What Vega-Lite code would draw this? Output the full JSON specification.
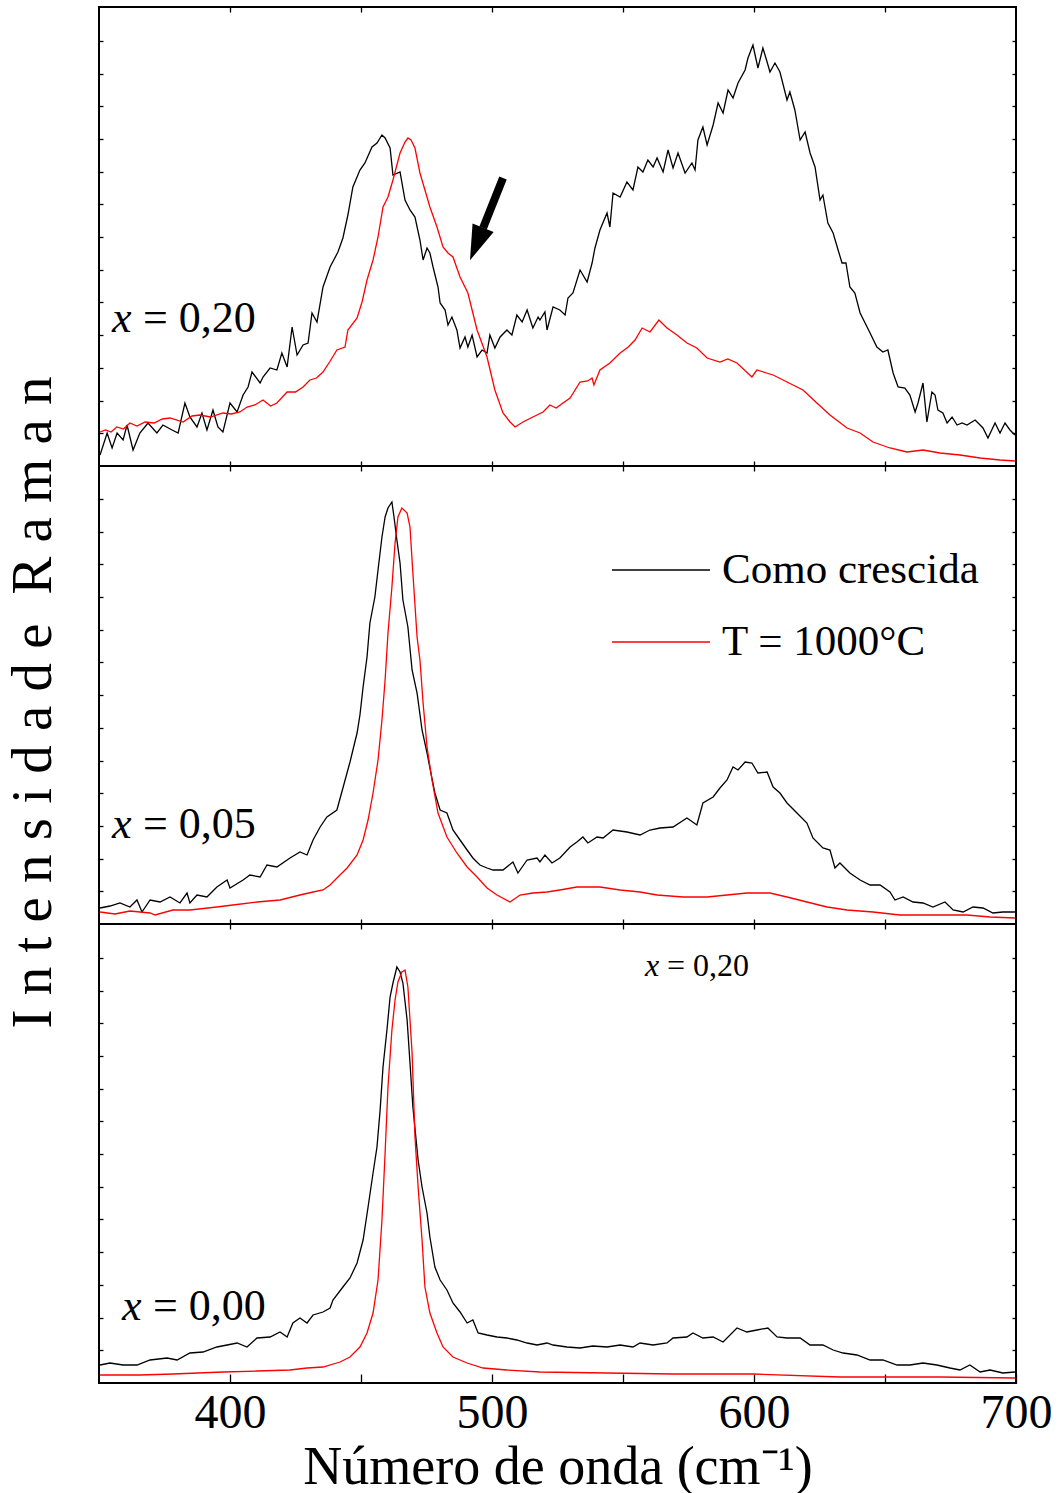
{
"$schema":"https://vega.github.io/schema/vega-lite/v6.json",
"background":"white",
"padding":{"left":3,"top":5,"right":0,"bottom":0},
"bounds":"flush",
"spacing":0,
"config":{"view":{"stroke":"black","strokeWidth":2},"font":"Liberation Serif",
 "axis":{"grid":false,"domain":false,"tickColor":"black","tickWidth":1.3,"labelColor":"black","titleColor":"black","labelFont":"Liberation Serif","titleFont":"Liberation Serif","titleFontWeight":"normal"}},
"resolve":{"scale":{"color":"independent","y":"independent"},"legend":{"color":"independent"}},
"datasets":{
"curves":[
{"p":"a","s":"k","x":350.4,"y":11},{"p":"a","s":"k","x":353.1,"y":33},{"p":"a","s":"k","x":355.0,"y":18},{"p":"a","s":"k","x":356.9,"y":33},{"p":"a","s":"k","x":359.2,"y":26},{"p":"a","s":"k","x":360.7,"y":41},{"p":"a","s":"k","x":363.0,"y":16},{"p":"a","s":"k","x":365.6,"y":33},{"p":"a","s":"k","x":368.7,"y":43},{"p":"a","s":"k","x":372.1,"y":33},{"p":"a","s":"k","x":374.4,"y":41},{"p":"a","s":"k","x":377.9,"y":36},{"p":"a","s":"k","x":380.2,"y":33},{"p":"a","s":"k","x":382.8,"y":63},{"p":"a","s":"k","x":384.7,"y":49},{"p":"a","s":"k","x":387.4,"y":39},{"p":"a","s":"k","x":389.3,"y":53},{"p":"a","s":"k","x":391.2,"y":36},{"p":"a","s":"k","x":393.5,"y":56},{"p":"a","s":"k","x":395.4,"y":39},{"p":"a","s":"k","x":397.3,"y":34},{"p":"a","s":"k","x":400.0,"y":63},{"p":"a","s":"k","x":402.7,"y":54},{"p":"a","s":"k","x":405.0,"y":71},{"p":"a","s":"k","x":406.9,"y":79},{"p":"a","s":"k","x":408.4,"y":94},{"p":"a","s":"k","x":411.5,"y":83},{"p":"a","s":"k","x":412.6,"y":89},{"p":"a","s":"k","x":415.3,"y":98},{"p":"a","s":"k","x":417.9,"y":96},{"p":"a","s":"k","x":419.8,"y":113},{"p":"a","s":"k","x":421.8,"y":99},{"p":"a","s":"k","x":423.7,"y":139},{"p":"a","s":"k","x":425.6,"y":111},{"p":"a","s":"k","x":427.9,"y":121},{"p":"a","s":"k","x":429.8,"y":123},{"p":"a","s":"k","x":431.3,"y":153},{"p":"a","s":"k","x":433.2,"y":144},{"p":"a","s":"k","x":435.5,"y":179},{"p":"a","s":"k","x":438.2,"y":199},{"p":"a","s":"k","x":441.2,"y":214},{"p":"a","s":"k","x":443.1,"y":228},{"p":"a","s":"k","x":445.0,"y":251},{"p":"a","s":"k","x":446.9,"y":279},{"p":"a","s":"k","x":449.6,"y":296},{"p":"a","s":"k","x":451.5,"y":303},{"p":"a","s":"k","x":454.2,"y":319},{"p":"a","s":"k","x":456.1,"y":323},{"p":"a","s":"k","x":458.0,"y":331},{"p":"a","s":"k","x":459.2,"y":328},{"p":"a","s":"k","x":461.1,"y":318},{"p":"a","s":"k","x":462.2,"y":291},{"p":"a","s":"k","x":464.9,"y":294},{"p":"a","s":"k","x":466.8,"y":266},{"p":"a","s":"k","x":468.7,"y":256},{"p":"a","s":"k","x":470.6,"y":249},{"p":"a","s":"k","x":472.5,"y":226},{"p":"a","s":"k","x":473.7,"y":206},{"p":"a","s":"k","x":475.2,"y":218},{"p":"a","s":"k","x":476.3,"y":213},{"p":"a","s":"k","x":477.5,"y":199},{"p":"a","s":"k","x":479.4,"y":179},{"p":"a","s":"k","x":480.2,"y":163},{"p":"a","s":"k","x":482.1,"y":156},{"p":"a","s":"k","x":483.2,"y":141},{"p":"a","s":"k","x":484.7,"y":149},{"p":"a","s":"k","x":486.6,"y":136},{"p":"a","s":"k","x":487.8,"y":118},{"p":"a","s":"k","x":489.7,"y":129},{"p":"a","s":"k","x":490.8,"y":119},{"p":"a","s":"k","x":492.4,"y":131},{"p":"a","s":"k","x":494.3,"y":109},{"p":"a","s":"k","x":496.2,"y":116},{"p":"a","s":"k","x":498.1,"y":113},{"p":"a","s":"k","x":499.2,"y":131},{"p":"a","s":"k","x":501.1,"y":118},{"p":"a","s":"k","x":503.1,"y":129},{"p":"a","s":"k","x":505.7,"y":136},{"p":"a","s":"k","x":507.6,"y":131},{"p":"a","s":"k","x":509.5,"y":151},{"p":"a","s":"k","x":511.5,"y":144},{"p":"a","s":"k","x":513.4,"y":156},{"p":"a","s":"k","x":515.6,"y":138},{"p":"a","s":"k","x":517.6,"y":149},{"p":"a","s":"k","x":518.3,"y":146},{"p":"a","s":"k","x":520.2,"y":154},{"p":"a","s":"k","x":521.0,"y":136},{"p":"a","s":"k","x":523.3,"y":159},{"p":"a","s":"k","x":525.9,"y":156},{"p":"a","s":"k","x":527.9,"y":151},{"p":"a","s":"k","x":529.0,"y":168},{"p":"a","s":"k","x":530.9,"y":173},{"p":"a","s":"k","x":533.6,"y":196},{"p":"a","s":"k","x":536.3,"y":184},{"p":"a","s":"k","x":538.2,"y":203},{"p":"a","s":"k","x":539.3,"y":218},{"p":"a","s":"k","x":541.2,"y":236},{"p":"a","s":"k","x":543.9,"y":253},{"p":"a","s":"k","x":545.0,"y":239},{"p":"a","s":"k","x":546.2,"y":273},{"p":"a","s":"k","x":548.9,"y":269},{"p":"a","s":"k","x":551.5,"y":284},{"p":"a","s":"k","x":553.8,"y":276},{"p":"a","s":"k","x":555.7,"y":299},{"p":"a","s":"k","x":557.6,"y":294},{"p":"a","s":"k","x":559.5,"y":306},{"p":"a","s":"k","x":561.5,"y":299},{"p":"a","s":"k","x":563.0,"y":308},{"p":"a","s":"k","x":565.3,"y":294},{"p":"a","s":"k","x":567.2,"y":316},{"p":"a","s":"k","x":569.1,"y":298},{"p":"a","s":"k","x":571.0,"y":313},{"p":"a","s":"k","x":573.7,"y":293},{"p":"a","s":"k","x":576.3,"y":303},{"p":"a","s":"k","x":577.5,"y":296},{"p":"a","s":"k","x":578.6,"y":326},{"p":"a","s":"k","x":580.5,"y":339},{"p":"a","s":"k","x":582.1,"y":321},{"p":"a","s":"k","x":584.4,"y":341},{"p":"a","s":"k","x":586.3,"y":363},{"p":"a","s":"k","x":588.2,"y":353},{"p":"a","s":"k","x":590.1,"y":376},{"p":"a","s":"k","x":592.0,"y":368},{"p":"a","s":"k","x":593.9,"y":383},{"p":"a","s":"k","x":596.6,"y":396},{"p":"a","s":"k","x":597.7,"y":408},{"p":"a","s":"k","x":599.6,"y":421},{"p":"a","s":"k","x":601.5,"y":398},{"p":"a","s":"k","x":603.4,"y":418},{"p":"a","s":"k","x":605.0,"y":404},{"p":"a","s":"k","x":606.1,"y":394},{"p":"a","s":"k","x":608.0,"y":403},{"p":"a","s":"k","x":609.9,"y":394},{"p":"a","s":"k","x":612.6,"y":366},{"p":"a","s":"k","x":613.7,"y":374},{"p":"a","s":"k","x":615.6,"y":356},{"p":"a","s":"k","x":617.6,"y":326},{"p":"a","s":"k","x":619.5,"y":334},{"p":"a","s":"k","x":621.4,"y":313},{"p":"a","s":"k","x":623.3,"y":299},{"p":"a","s":"k","x":625.2,"y":266},{"p":"a","s":"k","x":626.3,"y":271},{"p":"a","s":"k","x":628.2,"y":243},{"p":"a","s":"k","x":630.2,"y":233},{"p":"a","s":"k","x":632.1,"y":216},{"p":"a","s":"k","x":633.6,"y":203},{"p":"a","s":"k","x":635.1,"y":203},{"p":"a","s":"k","x":636.6,"y":179},{"p":"a","s":"k","x":638.5,"y":173},{"p":"a","s":"k","x":640.5,"y":153},{"p":"a","s":"k","x":642.4,"y":143},{"p":"a","s":"k","x":644.3,"y":133},{"p":"a","s":"k","x":646.9,"y":119},{"p":"a","s":"k","x":649.2,"y":114},{"p":"a","s":"k","x":651.1,"y":116},{"p":"a","s":"k","x":653.1,"y":93},{"p":"a","s":"k","x":655.0,"y":79},{"p":"a","s":"k","x":657.6,"y":78},{"p":"a","s":"k","x":659.5,"y":71},{"p":"a","s":"k","x":661.5,"y":54},{"p":"a","s":"k","x":662.6,"y":63},{"p":"a","s":"k","x":664.5,"y":83},{"p":"a","s":"k","x":666.0,"y":44},{"p":"a","s":"k","x":667.9,"y":74},{"p":"a","s":"k","x":669.1,"y":71},{"p":"a","s":"k","x":670.2,"y":56},{"p":"a","s":"k","x":672.1,"y":53},{"p":"a","s":"k","x":673.7,"y":43},{"p":"a","s":"k","x":675.6,"y":49},{"p":"a","s":"k","x":677.5,"y":41},{"p":"a","s":"k","x":679.4,"y":43},{"p":"a","s":"k","x":681.3,"y":41},{"p":"a","s":"k","x":684.4,"y":46},{"p":"a","s":"k","x":686.3,"y":41},{"p":"a","s":"k","x":687.4,"y":38},{"p":"a","s":"k","x":689.3,"y":28},{"p":"a","s":"k","x":692.0,"y":43},{"p":"a","s":"k","x":693.9,"y":33},{"p":"a","s":"k","x":695.8,"y":43},{"p":"a","s":"k","x":697.7,"y":36},{"p":"a","s":"k","x":699.6,"y":31},
{"p":"a","s":"r","x":350.4,"y":34},{"p":"a","s":"r","x":352.5,"y":36},{"p":"a","s":"r","x":354.6,"y":34},{"p":"a","s":"r","x":356.8,"y":39},{"p":"a","s":"r","x":359.3,"y":37},{"p":"a","s":"r","x":361.8,"y":43},{"p":"a","s":"r","x":364.5,"y":40},{"p":"a","s":"r","x":367.6,"y":44},{"p":"a","s":"r","x":371.0,"y":43},{"p":"a","s":"r","x":374.2,"y":47},{"p":"a","s":"r","x":377.1,"y":48},{"p":"a","s":"r","x":382.1,"y":44},{"p":"a","s":"r","x":385.5,"y":50},{"p":"a","s":"r","x":388.5,"y":51},{"p":"a","s":"r","x":392.5,"y":49},{"p":"a","s":"r","x":397.3,"y":53},{"p":"a","s":"r","x":400.5,"y":52},{"p":"a","s":"r","x":403.8,"y":54},{"p":"a","s":"r","x":406.5,"y":59},{"p":"a","s":"r","x":409.5,"y":61},{"p":"a","s":"r","x":412.6,"y":66},{"p":"a","s":"r","x":415.5,"y":60},{"p":"a","s":"r","x":417.9,"y":63},{"p":"a","s":"r","x":421.8,"y":74},{"p":"a","s":"r","x":425.0,"y":74},{"p":"a","s":"r","x":427.9,"y":79},{"p":"a","s":"r","x":430.5,"y":86},{"p":"a","s":"r","x":433.0,"y":88},{"p":"a","s":"r","x":435.5,"y":94},{"p":"a","s":"r","x":438.0,"y":104},{"p":"a","s":"r","x":440.8,"y":116},{"p":"a","s":"r","x":443.9,"y":119},{"p":"a","s":"r","x":445.0,"y":136},{"p":"a","s":"r","x":448.5,"y":148},{"p":"a","s":"r","x":450.4,"y":164},{"p":"a","s":"r","x":452.3,"y":186},{"p":"a","s":"r","x":454.6,"y":206},{"p":"a","s":"r","x":456.5,"y":229},{"p":"a","s":"r","x":458.4,"y":259},{"p":"a","s":"r","x":460.3,"y":269},{"p":"a","s":"r","x":462.2,"y":286},{"p":"a","s":"r","x":464.9,"y":313},{"p":"a","s":"r","x":466.8,"y":324},{"p":"a","s":"r","x":467.9,"y":328},{"p":"a","s":"r","x":469.1,"y":326},{"p":"a","s":"r","x":470.6,"y":318},{"p":"a","s":"r","x":472.5,"y":293},{"p":"a","s":"r","x":474.4,"y":276},{"p":"a","s":"r","x":476.3,"y":259},{"p":"a","s":"r","x":479.0,"y":239},{"p":"a","s":"r","x":481.3,"y":219},{"p":"a","s":"r","x":483.2,"y":213},{"p":"a","s":"r","x":485.1,"y":209},{"p":"a","s":"r","x":487.8,"y":189},{"p":"a","s":"r","x":490.8,"y":173},{"p":"a","s":"r","x":492.5,"y":155},{"p":"a","s":"r","x":494.3,"y":136},{"p":"a","s":"r","x":498.1,"y":109},{"p":"a","s":"r","x":501.1,"y":76},{"p":"a","s":"r","x":504.2,"y":53},{"p":"a","s":"r","x":506.9,"y":44},{"p":"a","s":"r","x":508.8,"y":39},{"p":"a","s":"r","x":511.8,"y":44},{"p":"a","s":"r","x":515.6,"y":49},{"p":"a","s":"r","x":519.5,"y":54},{"p":"a","s":"r","x":522.1,"y":61},{"p":"a","s":"r","x":524.5,"y":58},{"p":"a","s":"r","x":527.1,"y":63},{"p":"a","s":"r","x":529.8,"y":68},{"p":"a","s":"r","x":533.6,"y":84},{"p":"a","s":"r","x":536.5,"y":85},{"p":"a","s":"r","x":538.2,"y":88},{"p":"a","s":"r","x":538.9,"y":81},{"p":"a","s":"r","x":541.2,"y":96},{"p":"a","s":"r","x":545.0,"y":103},{"p":"a","s":"r","x":548.9,"y":113},{"p":"a","s":"r","x":552.0,"y":119},{"p":"a","s":"r","x":554.6,"y":126},{"p":"a","s":"r","x":557.3,"y":138},{"p":"a","s":"r","x":560.3,"y":134},{"p":"a","s":"r","x":563.7,"y":146},{"p":"a","s":"r","x":566.8,"y":138},{"p":"a","s":"r","x":570.6,"y":131},{"p":"a","s":"r","x":574.4,"y":123},{"p":"a","s":"r","x":578.2,"y":118},{"p":"a","s":"r","x":582.1,"y":108},{"p":"a","s":"r","x":587.0,"y":104},{"p":"a","s":"r","x":590.0,"y":107},{"p":"a","s":"r","x":593.5,"y":103},{"p":"a","s":"r","x":599.2,"y":89},{"p":"a","s":"r","x":601.1,"y":96},{"p":"a","s":"r","x":607.3,"y":91},{"p":"a","s":"r","x":612.6,"y":84},{"p":"a","s":"r","x":618.7,"y":76},{"p":"a","s":"r","x":624.0,"y":63},{"p":"a","s":"r","x":629.0,"y":51},{"p":"a","s":"r","x":635.5,"y":38},{"p":"a","s":"r","x":640.5,"y":33},{"p":"a","s":"r","x":645.4,"y":24},{"p":"a","s":"r","x":651.9,"y":18},{"p":"a","s":"r","x":658.4,"y":14},{"p":"a","s":"r","x":664.5,"y":16},{"p":"a","s":"r","x":671.0,"y":13},{"p":"a","s":"r","x":678.6,"y":11},{"p":"a","s":"r","x":686.3,"y":8},{"p":"a","s":"r","x":693.9,"y":6},{"p":"a","s":"r","x":699.6,"y":5},
{"p":"b","s":"k","x":350.4,"y":16},{"p":"b","s":"k","x":354.2,"y":18},{"p":"b","s":"k","x":358.0,"y":21},{"p":"b","s":"k","x":361.8,"y":17},{"p":"b","s":"k","x":364.5,"y":24},{"p":"b","s":"k","x":366.4,"y":12},{"p":"b","s":"k","x":369.5,"y":24},{"p":"b","s":"k","x":373.3,"y":22},{"p":"b","s":"k","x":377.1,"y":27},{"p":"b","s":"k","x":380.9,"y":21},{"p":"b","s":"k","x":383.6,"y":31},{"p":"b","s":"k","x":384.7,"y":21},{"p":"b","s":"k","x":387.4,"y":29},{"p":"b","s":"k","x":391.2,"y":27},{"p":"b","s":"k","x":395.0,"y":37},{"p":"b","s":"k","x":398.9,"y":44},{"p":"b","s":"k","x":400.0,"y":36},{"p":"b","s":"k","x":405.0,"y":44},{"p":"b","s":"k","x":407.6,"y":49},{"p":"b","s":"k","x":411.5,"y":47},{"p":"b","s":"k","x":414.1,"y":59},{"p":"b","s":"k","x":417.9,"y":57},{"p":"b","s":"k","x":422.9,"y":66},{"p":"b","s":"k","x":426.7,"y":72},{"p":"b","s":"k","x":429.4,"y":69},{"p":"b","s":"k","x":431.7,"y":84},{"p":"b","s":"k","x":434.4,"y":97},{"p":"b","s":"k","x":437.0,"y":107},{"p":"b","s":"k","x":440.8,"y":114},{"p":"b","s":"k","x":443.1,"y":136},{"p":"b","s":"k","x":445.8,"y":162},{"p":"b","s":"k","x":448.5,"y":191},{"p":"b","s":"k","x":449.6,"y":209},{"p":"b","s":"k","x":450.8,"y":237},{"p":"b","s":"k","x":452.3,"y":267},{"p":"b","s":"k","x":453.4,"y":301},{"p":"b","s":"k","x":455.3,"y":327},{"p":"b","s":"k","x":456.5,"y":354},{"p":"b","s":"k","x":458.0,"y":387},{"p":"b","s":"k","x":459.2,"y":407},{"p":"b","s":"k","x":460.3,"y":416},{"p":"b","s":"k","x":461.8,"y":422},{"p":"b","s":"k","x":462.6,"y":407},{"p":"b","s":"k","x":463.7,"y":384},{"p":"b","s":"k","x":464.9,"y":361},{"p":"b","s":"k","x":466.0,"y":324},{"p":"b","s":"k","x":467.9,"y":297},{"p":"b","s":"k","x":469.5,"y":254},{"p":"b","s":"k","x":471.4,"y":231},{"p":"b","s":"k","x":473.3,"y":194},{"p":"b","s":"k","x":475.2,"y":171},{"p":"b","s":"k","x":476.3,"y":156},{"p":"b","s":"k","x":478.2,"y":131},{"p":"b","s":"k","x":480.2,"y":114},{"p":"b","s":"k","x":482.8,"y":111},{"p":"b","s":"k","x":485.1,"y":94},{"p":"b","s":"k","x":487.8,"y":84},{"p":"b","s":"k","x":490.5,"y":74},{"p":"b","s":"k","x":492.7,"y":66},{"p":"b","s":"k","x":495.4,"y":59},{"p":"b","s":"k","x":498.1,"y":56},{"p":"b","s":"k","x":500.4,"y":54},{"p":"b","s":"k","x":504.2,"y":54},{"p":"b","s":"k","x":508.0,"y":62},{"p":"b","s":"k","x":509.9,"y":51},{"p":"b","s":"k","x":513.4,"y":64},{"p":"b","s":"k","x":517.2,"y":66},{"p":"b","s":"k","x":518.3,"y":62},{"p":"b","s":"k","x":520.2,"y":69},{"p":"b","s":"k","x":522.9,"y":61},{"p":"b","s":"k","x":525.9,"y":66},{"p":"b","s":"k","x":529.8,"y":77},{"p":"b","s":"k","x":532.4,"y":82},{"p":"b","s":"k","x":534.7,"y":87},{"p":"b","s":"k","x":536.6,"y":81},{"p":"b","s":"k","x":540.1,"y":87},{"p":"b","s":"k","x":542.4,"y":86},{"p":"b","s":"k","x":546.2,"y":94},{"p":"b","s":"k","x":551.5,"y":92},{"p":"b","s":"k","x":556.5,"y":89},{"p":"b","s":"k","x":560.3,"y":94},{"p":"b","s":"k","x":564.1,"y":96},{"p":"b","s":"k","x":569.1,"y":97},{"p":"b","s":"k","x":574.4,"y":106},{"p":"b","s":"k","x":578.2,"y":99},{"p":"b","s":"k","x":580.5,"y":121},{"p":"b","s":"k","x":584.4,"y":127},{"p":"b","s":"k","x":587.0,"y":136},{"p":"b","s":"k","x":589.7,"y":144},{"p":"b","s":"k","x":592.0,"y":157},{"p":"b","s":"k","x":593.9,"y":154},{"p":"b","s":"k","x":596.6,"y":162},{"p":"b","s":"k","x":599.2,"y":161},{"p":"b","s":"k","x":601.5,"y":151},{"p":"b","s":"k","x":605.0,"y":152},{"p":"b","s":"k","x":607.3,"y":137},{"p":"b","s":"k","x":609.9,"y":131},{"p":"b","s":"k","x":612.6,"y":121},{"p":"b","s":"k","x":616.4,"y":111},{"p":"b","s":"k","x":620.2,"y":101},{"p":"b","s":"k","x":622.5,"y":86},{"p":"b","s":"k","x":626.3,"y":76},{"p":"b","s":"k","x":629.0,"y":74},{"p":"b","s":"k","x":630.9,"y":56},{"p":"b","s":"k","x":632.8,"y":61},{"p":"b","s":"k","x":636.6,"y":51},{"p":"b","s":"k","x":640.5,"y":44},{"p":"b","s":"k","x":644.3,"y":39},{"p":"b","s":"k","x":648.1,"y":39},{"p":"b","s":"k","x":651.9,"y":32},{"p":"b","s":"k","x":653.8,"y":24},{"p":"b","s":"k","x":656.9,"y":27},{"p":"b","s":"k","x":660.7,"y":22},{"p":"b","s":"k","x":664.5,"y":21},{"p":"b","s":"k","x":668.3,"y":17},{"p":"b","s":"k","x":672.9,"y":22},{"p":"b","s":"k","x":676.0,"y":14},{"p":"b","s":"k","x":679.8,"y":12},{"p":"b","s":"k","x":683.6,"y":17},{"p":"b","s":"k","x":687.4,"y":16},{"p":"b","s":"k","x":691.2,"y":11},{"p":"b","s":"k","x":695.0,"y":12},{"p":"b","s":"k","x":699.6,"y":12},
{"p":"b","s":"r","x":350.4,"y":12},{"p":"b","s":"r","x":356.1,"y":10},{"p":"b","s":"r","x":361.8,"y":13},{"p":"b","s":"r","x":369.5,"y":11},{"p":"b","s":"r","x":371.4,"y":9},{"p":"b","s":"r","x":378.2,"y":14},{"p":"b","s":"r","x":384.7,"y":14},{"p":"b","s":"r","x":395.0,"y":17},{"p":"b","s":"r","x":401.1,"y":19},{"p":"b","s":"r","x":410.3,"y":22},{"p":"b","s":"r","x":419.1,"y":24},{"p":"b","s":"r","x":426.7,"y":29},{"p":"b","s":"r","x":431.7,"y":32},{"p":"b","s":"r","x":435.5,"y":34},{"p":"b","s":"r","x":438.2,"y":39},{"p":"b","s":"r","x":441.2,"y":47},{"p":"b","s":"r","x":444.7,"y":56},{"p":"b","s":"r","x":448.5,"y":69},{"p":"b","s":"r","x":450.8,"y":84},{"p":"b","s":"r","x":452.7,"y":104},{"p":"b","s":"r","x":454.6,"y":131},{"p":"b","s":"r","x":456.5,"y":164},{"p":"b","s":"r","x":458.0,"y":204},{"p":"b","s":"r","x":459.2,"y":244},{"p":"b","s":"r","x":460.3,"y":291},{"p":"b","s":"r","x":461.8,"y":337},{"p":"b","s":"r","x":463.0,"y":381},{"p":"b","s":"r","x":464.1,"y":407},{"p":"b","s":"r","x":465.6,"y":416},{"p":"b","s":"r","x":467.6,"y":411},{"p":"b","s":"r","x":468.7,"y":397},{"p":"b","s":"r","x":469.8,"y":351},{"p":"b","s":"r","x":471.4,"y":287},{"p":"b","s":"r","x":472.5,"y":264},{"p":"b","s":"r","x":473.7,"y":221},{"p":"b","s":"r","x":475.2,"y":177},{"p":"b","s":"r","x":477.1,"y":144},{"p":"b","s":"r","x":479.4,"y":111},{"p":"b","s":"r","x":482.8,"y":87},{"p":"b","s":"r","x":486.6,"y":71},{"p":"b","s":"r","x":490.5,"y":57},{"p":"b","s":"r","x":494.3,"y":47},{"p":"b","s":"r","x":498.1,"y":36},{"p":"b","s":"r","x":501.9,"y":29},{"p":"b","s":"r","x":506.9,"y":22},{"p":"b","s":"r","x":510.7,"y":29},{"p":"b","s":"r","x":515.6,"y":31},{"p":"b","s":"r","x":521.0,"y":32},{"p":"b","s":"r","x":525.9,"y":34},{"p":"b","s":"r","x":532.4,"y":37},{"p":"b","s":"r","x":541.2,"y":37},{"p":"b","s":"r","x":548.9,"y":34},{"p":"b","s":"r","x":556.5,"y":32},{"p":"b","s":"r","x":563.0,"y":29},{"p":"b","s":"r","x":572.9,"y":27},{"p":"b","s":"r","x":582.1,"y":27},{"p":"b","s":"r","x":589.7,"y":29},{"p":"b","s":"r","x":597.3,"y":31},{"p":"b","s":"r","x":606.1,"y":31},{"p":"b","s":"r","x":612.6,"y":27},{"p":"b","s":"r","x":620.2,"y":22},{"p":"b","s":"r","x":627.9,"y":17},{"p":"b","s":"r","x":635.5,"y":14},{"p":"b","s":"r","x":645.4,"y":12},{"p":"b","s":"r","x":655.7,"y":9},{"p":"b","s":"r","x":666.0,"y":9},{"p":"b","s":"r","x":674.8,"y":9},{"p":"b","s":"r","x":681.3,"y":9},{"p":"b","s":"r","x":690.1,"y":7},{"p":"b","s":"r","x":699.6,"y":6},
{"p":"c","s":"k","x":350.4,"y":18},{"p":"c","s":"k","x":354.2,"y":20},{"p":"c","s":"k","x":359.2,"y":18},{"p":"c","s":"k","x":364.5,"y":18},{"p":"c","s":"k","x":369.5,"y":23},{"p":"c","s":"k","x":376.0,"y":25},{"p":"c","s":"k","x":379.8,"y":23},{"p":"c","s":"k","x":384.7,"y":30},{"p":"c","s":"k","x":389.7,"y":31},{"p":"c","s":"k","x":395.0,"y":36},{"p":"c","s":"k","x":398.9,"y":38},{"p":"c","s":"k","x":402.7,"y":40},{"p":"c","s":"k","x":406.5,"y":36},{"p":"c","s":"k","x":410.3,"y":45},{"p":"c","s":"k","x":415.3,"y":46},{"p":"c","s":"k","x":419.1,"y":51},{"p":"c","s":"k","x":421.8,"y":46},{"p":"c","s":"k","x":424.0,"y":60},{"p":"c","s":"k","x":426.7,"y":65},{"p":"c","s":"k","x":429.4,"y":60},{"p":"c","s":"k","x":431.7,"y":68},{"p":"c","s":"k","x":435.5,"y":71},{"p":"c","s":"k","x":438.2,"y":75},{"p":"c","s":"k","x":439.3,"y":83},{"p":"c","s":"k","x":443.1,"y":96},{"p":"c","s":"k","x":445.8,"y":105},{"p":"c","s":"k","x":448.5,"y":120},{"p":"c","s":"k","x":450.8,"y":143},{"p":"c","s":"k","x":452.7,"y":176},{"p":"c","s":"k","x":454.6,"y":210},{"p":"c","s":"k","x":456.1,"y":236},{"p":"c","s":"k","x":457.3,"y":273},{"p":"c","s":"k","x":458.4,"y":316},{"p":"c","s":"k","x":459.9,"y":353},{"p":"c","s":"k","x":461.1,"y":386},{"p":"c","s":"k","x":462.2,"y":400},{"p":"c","s":"k","x":463.7,"y":416},{"p":"c","s":"k","x":464.9,"y":411},{"p":"c","s":"k","x":466.0,"y":400},{"p":"c","s":"k","x":467.6,"y":363},{"p":"c","s":"k","x":468.7,"y":320},{"p":"c","s":"k","x":469.8,"y":276},{"p":"c","s":"k","x":471.8,"y":223},{"p":"c","s":"k","x":473.3,"y":196},{"p":"c","s":"k","x":475.2,"y":170},{"p":"c","s":"k","x":476.3,"y":146},{"p":"c","s":"k","x":478.2,"y":116},{"p":"c","s":"k","x":480.2,"y":103},{"p":"c","s":"k","x":482.8,"y":93},{"p":"c","s":"k","x":485.1,"y":80},{"p":"c","s":"k","x":487.8,"y":71},{"p":"c","s":"k","x":490.5,"y":60},{"p":"c","s":"k","x":492.7,"y":63},{"p":"c","s":"k","x":494.7,"y":50},{"p":"c","s":"k","x":498.1,"y":48},{"p":"c","s":"k","x":501.9,"y":46},{"p":"c","s":"k","x":505.7,"y":45},{"p":"c","s":"k","x":509.5,"y":43},{"p":"c","s":"k","x":513.4,"y":40},{"p":"c","s":"k","x":517.2,"y":38},{"p":"c","s":"k","x":521.0,"y":40},{"p":"c","s":"k","x":523.3,"y":38},{"p":"c","s":"k","x":528.6,"y":36},{"p":"c","s":"k","x":533.6,"y":35},{"p":"c","s":"k","x":538.5,"y":37},{"p":"c","s":"k","x":543.9,"y":36},{"p":"c","s":"k","x":548.9,"y":38},{"p":"c","s":"k","x":553.8,"y":36},{"p":"c","s":"k","x":556.5,"y":40},{"p":"c","s":"k","x":561.5,"y":38},{"p":"c","s":"k","x":566.8,"y":40},{"p":"c","s":"k","x":569.1,"y":45},{"p":"c","s":"k","x":574.4,"y":46},{"p":"c","s":"k","x":576.7,"y":50},{"p":"c","s":"k","x":580.5,"y":45},{"p":"c","s":"k","x":584.4,"y":46},{"p":"c","s":"k","x":588.2,"y":41},{"p":"c","s":"k","x":593.5,"y":55},{"p":"c","s":"k","x":597.3,"y":51},{"p":"c","s":"k","x":601.1,"y":53},{"p":"c","s":"k","x":605.3,"y":55},{"p":"c","s":"k","x":608.8,"y":46},{"p":"c","s":"k","x":612.6,"y":45},{"p":"c","s":"k","x":617.6,"y":45},{"p":"c","s":"k","x":621.4,"y":38},{"p":"c","s":"k","x":626.3,"y":38},{"p":"c","s":"k","x":630.2,"y":33},{"p":"c","s":"k","x":634.0,"y":30},{"p":"c","s":"k","x":639.3,"y":28},{"p":"c","s":"k","x":644.3,"y":23},{"p":"c","s":"k","x":649.2,"y":23},{"p":"c","s":"k","x":654.6,"y":18},{"p":"c","s":"k","x":659.5,"y":18},{"p":"c","s":"k","x":664.5,"y":20},{"p":"c","s":"k","x":669.8,"y":18},{"p":"c","s":"k","x":674.8,"y":15},{"p":"c","s":"k","x":678.6,"y":13},{"p":"c","s":"k","x":682.4,"y":18},{"p":"c","s":"k","x":686.3,"y":11},{"p":"c","s":"k","x":690.1,"y":13},{"p":"c","s":"k","x":695.0,"y":10},{"p":"c","s":"k","x":699.6,"y":11},
{"p":"c","s":"r","x":350.4,"y":8},{"p":"c","s":"r","x":365.6,"y":8},{"p":"c","s":"r","x":378.2,"y":9},{"p":"c","s":"r","x":397.3,"y":11},{"p":"c","s":"r","x":410.3,"y":12},{"p":"c","s":"r","x":422.9,"y":13},{"p":"c","s":"r","x":429.4,"y":15},{"p":"c","s":"r","x":435.5,"y":16},{"p":"c","s":"r","x":442.0,"y":21},{"p":"c","s":"r","x":445.8,"y":26},{"p":"c","s":"r","x":449.6,"y":36},{"p":"c","s":"r","x":452.3,"y":50},{"p":"c","s":"r","x":454.6,"y":70},{"p":"c","s":"r","x":456.5,"y":103},{"p":"c","s":"r","x":458.0,"y":163},{"p":"c","s":"r","x":459.2,"y":230},{"p":"c","s":"r","x":460.3,"y":296},{"p":"c","s":"r","x":461.8,"y":353},{"p":"c","s":"r","x":463.0,"y":383},{"p":"c","s":"r","x":464.1,"y":401},{"p":"c","s":"r","x":465.6,"y":411},{"p":"c","s":"r","x":466.8,"y":413},{"p":"c","s":"r","x":467.9,"y":396},{"p":"c","s":"r","x":469.5,"y":330},{"p":"c","s":"r","x":470.6,"y":246},{"p":"c","s":"r","x":471.8,"y":196},{"p":"c","s":"r","x":473.3,"y":143},{"p":"c","s":"r","x":474.4,"y":96},{"p":"c","s":"r","x":476.3,"y":70},{"p":"c","s":"r","x":479.0,"y":50},{"p":"c","s":"r","x":481.3,"y":36},{"p":"c","s":"r","x":485.1,"y":26},{"p":"c","s":"r","x":490.5,"y":20},{"p":"c","s":"r","x":496.6,"y":15},{"p":"c","s":"r","x":505.7,"y":13},{"p":"c","s":"r","x":518.3,"y":11},{"p":"c","s":"r","x":543.9,"y":10},{"p":"c","s":"r","x":569.1,"y":9},{"p":"c","s":"r","x":599.6,"y":9},{"p":"c","s":"r","x":632.8,"y":6},{"p":"c","s":"r","x":671.0,"y":6},{"p":"c","s":"r","x":699.6,"y":5}
],
"labels":[
{"p":"a","kind":"main","t":"x","x":355.0,"y":134},{"p":"a","kind":"main","t":"= 0,20","x":366.8,"y":134},
{"p":"b","kind":"main","t":"x","x":355.0,"y":86},{"p":"b","kind":"main","t":"= 0,05","x":366.8,"y":86},
{"p":"c","kind":"main","t":"x","x":358.8,"y":63},{"p":"c","kind":"main","t":"= 0,00","x":370.6,"y":63},
{"p":"c","kind":"note","t":"x","x":558.4,"y":407},{"p":"c","kind":"note","t":"= 0,20","x":566.8,"y":407}
],
"arrow":[{"x":504.2,"y":288,"x2":496.6,"y2":238,"hx":494.1,"hy":222}]
},
"vconcat":[
{
 "width":917,"height":459,
 "layer":[
  {"data":{"name":"curves"},"transform":[{"filter":"datum.p == 'a'"}],
   "mark":{"type":"line","strokeWidth":1.3},
   "encoding":{
    "x":{"field":"x","type":"quantitative","scale":{"domain":[350,700],"nice":false,"zero":false},"axis":{"orient":"bottom","values":[400,450,500,550,600,650],"labels":false,"tickSize":-5,"title":null}},
    "y":{"field":"y","type":"quantitative","scale":{"domain":[0,459],"nice":false},"axis":{"orient":"left","values":[32.7,65.4,98.1,130.8,163.5,196.2,228.9,261.6,294.3,327,359.7,392.4,425.1],"labels":false,"tickSize":-4,"title":null}},
    "color":{"field":"s","type":"nominal","scale":{"domain":["k","r"],"range":["black","#ff0000"]},"legend":null}}},
  {"data":{"name":"labels"},"transform":[{"filter":"datum.p == 'a' && datum.t == 'x'"}],
   "mark":{"type":"text","font":"Liberation Serif","fontStyle":"italic","fontSize":44,"align":"left","baseline":"alphabetic","color":"black"},
   "encoding":{
    "x":{"field":"x","type":"quantitative","scale":{"domain":[350,700],"nice":false,"zero":false},"axis":{"orient":"top","values":[400,450,500,550,600,650],"labels":false,"tickSize":-5,"title":null}},
    "y":{"field":"y","type":"quantitative","scale":{"domain":[0,459],"nice":false},"axis":{"orient":"right","values":[32.7,65.4,98.1,130.8,163.5,196.2,228.9,261.6,294.3,327,359.7,392.4,425.1],"labels":false,"tickSize":-4,"title":null}},
    "text":{"field":"t"}}},
  {"data":{"name":"labels"},"transform":[{"filter":"datum.p == 'a' && datum.t != 'x'"}],
   "mark":{"type":"text","font":"Liberation Serif","fontSize":44,"align":"left","baseline":"alphabetic","color":"black"},
   "encoding":{"x":{"field":"x","type":"quantitative","axis":null},"y":{"field":"y","type":"quantitative","axis":null},"text":{"field":"t"}}},
  {"data":{"name":"arrow"},
   "mark":{"type":"rule","strokeWidth":8,"color":"black","strokeCap":"butt"},
   "encoding":{"x":{"field":"x","type":"quantitative","axis":null},"y":{"field":"y","type":"quantitative","axis":null},"x2":{"field":"x2"},"y2":{"field":"y2"}}},
  {"data":{"name":"arrow"},
   "mark":{"type":"point","shape":"M -0.65 -1 L 0.65 -1 L 0 1 Z","size":1225,"angle":22,"filled":true,"color":"black","opacity":1},
   "encoding":{"x":{"field":"hx","type":"quantitative","axis":null},"y":{"field":"hy","type":"quantitative","axis":null}}}
 ],
 "resolve":{"axis":{"x":"independent","y":"independent"}}
},
{
 "width":917,"height":458,
 "layer":[
  {"data":{"name":"curves"},"transform":[{"filter":"datum.p == 'b'"}],
   "mark":{"type":"line","strokeWidth":1.3},
   "encoding":{
    "x":{"field":"x","type":"quantitative","scale":{"domain":[350,700],"nice":false,"zero":false},"axis":{"orient":"bottom","values":[400,450,500,550,600,650],"labels":false,"tickSize":-5,"title":null}},
    "y":{"field":"y","type":"quantitative","scale":{"domain":[0,458],"nice":false},"axis":{"orient":"left","values":[32.7,65.4,98.1,130.8,163.5,196.2,228.9,261.6,294.3,327,359.7,392.4,425.1],"labels":false,"tickSize":-4,"title":"I n t e n s i d a d e \u00a0R a m a n","titleFontSize":57,"titlePadding":36,"titleY":236}},
    "color":{"field":"s","type":"nominal","scale":{"domain":["k","r"],"range":["black","#ff0000"]},
     "legend":{"orient":"none","legendX":512,"legendY":54,"title":null,"symbolType":"stroke","symbolSize":9604,"symbolStrokeWidth":1.4,"labelFont":"Liberation Serif","labelFontSize":43,"labelColor":"black","labelOffset":11,"rowPadding":-15,"labelLimit":0,"labelExpr":"datum.label == 'k' ? 'Como crescida' : 'T = 1000°C'"}}}},
  {"data":{"name":"labels"},"transform":[{"filter":"datum.p == 'b' && datum.t == 'x'"}],
   "mark":{"type":"text","font":"Liberation Serif","fontStyle":"italic","fontSize":44,"align":"left","baseline":"alphabetic","color":"black"},
   "encoding":{
    "x":{"field":"x","type":"quantitative","scale":{"domain":[350,700],"nice":false,"zero":false},"axis":{"orient":"top","values":[400,450,500,550,600,650],"labels":false,"tickSize":-5,"title":null}},
    "y":{"field":"y","type":"quantitative","scale":{"domain":[0,458],"nice":false},"axis":{"orient":"right","values":[32.7,65.4,98.1,130.8,163.5,196.2,228.9,261.6,294.3,327,359.7,392.4,425.1],"labels":false,"tickSize":-4,"title":null}},
    "text":{"field":"t"}}},
  {"data":{"name":"labels"},"transform":[{"filter":"datum.p == 'b' && datum.t != 'x'"}],
   "mark":{"type":"text","font":"Liberation Serif","fontSize":44,"align":"left","baseline":"alphabetic","color":"black"},
   "encoding":{"x":{"field":"x","type":"quantitative","axis":null},"y":{"field":"y","type":"quantitative","axis":null},"text":{"field":"t"}}}
 ],
 "resolve":{"axis":{"x":"independent","y":"independent"}}
},
{
 "width":917,"height":459,
 "layer":[
  {"data":{"name":"curves"},"transform":[{"filter":"datum.p == 'c'"}],
   "mark":{"type":"line","strokeWidth":1.3},
   "encoding":{
    "x":{"field":"x","type":"quantitative","scale":{"domain":[350,700],"nice":false,"zero":false},"axis":{"orient":"bottom","values":[400,450,500,550,600,650,700],"labelExpr":"datum.value % 100 == 0 ? datum.label : ''","labelFlush":false,"labelFontSize":48,"labelBaseline":"alphabetic","labelPadding":53,"tickSize":-9,"title":"Número de onda (cm⁻¹)","titleFontSize":54,"titlePadding":3}},
    "y":{"field":"y","type":"quantitative","scale":{"domain":[0,459],"nice":false},"axis":{"orient":"left","values":[32.7,65.4,98.1,130.8,163.5,196.2,228.9,261.6,294.3,327,359.7,392.4,425.1],"labels":false,"tickSize":-4,"title":null}},
    "color":{"field":"s","type":"nominal","scale":{"domain":["k","r"],"range":["black","#ff0000"]},"legend":null}}},
  {"data":{"name":"labels"},"transform":[{"filter":"datum.p == 'c' && datum.t == 'x' && datum.kind == 'main'"}],
   "mark":{"type":"text","font":"Liberation Serif","fontStyle":"italic","fontSize":44,"align":"left","baseline":"alphabetic","color":"black"},
   "encoding":{
    "x":{"field":"x","type":"quantitative","scale":{"domain":[350,700],"nice":false,"zero":false},"axis":{"orient":"top","values":[400,450,500,550,600,650],"labels":false,"tickSize":-5,"title":null}},
    "y":{"field":"y","type":"quantitative","scale":{"domain":[0,459],"nice":false},"axis":{"orient":"right","values":[32.7,65.4,98.1,130.8,163.5,196.2,228.9,261.6,294.3,327,359.7,392.4,425.1],"labels":false,"tickSize":-4,"title":null}},
    "text":{"field":"t"}}},
  {"data":{"name":"labels"},"transform":[{"filter":"datum.p == 'c' && datum.t != 'x' && datum.kind == 'main'"}],
   "mark":{"type":"text","font":"Liberation Serif","fontSize":44,"align":"left","baseline":"alphabetic","color":"black"},
   "encoding":{"x":{"field":"x","type":"quantitative","axis":null},"y":{"field":"y","type":"quantitative","axis":null},"text":{"field":"t"}}},
  {"data":{"name":"labels"},"transform":[{"filter":"datum.p == 'c' && datum.t == 'x' && datum.kind == 'note'"}],
   "mark":{"type":"text","font":"Liberation Serif","fontStyle":"italic","fontSize":32,"align":"left","baseline":"alphabetic","color":"black"},
   "encoding":{"x":{"field":"x","type":"quantitative","axis":null},"y":{"field":"y","type":"quantitative","axis":null},"text":{"field":"t"}}},
  {"data":{"name":"labels"},"transform":[{"filter":"datum.p == 'c' && datum.t != 'x' && datum.kind == 'note'"}],
   "mark":{"type":"text","font":"Liberation Serif","fontSize":32,"align":"left","baseline":"alphabetic","color":"black"},
   "encoding":{"x":{"field":"x","type":"quantitative","axis":null},"y":{"field":"y","type":"quantitative","axis":null},"text":{"field":"t"}}}
 ],
 "resolve":{"axis":{"x":"independent","y":"independent"}}
}
]
}
